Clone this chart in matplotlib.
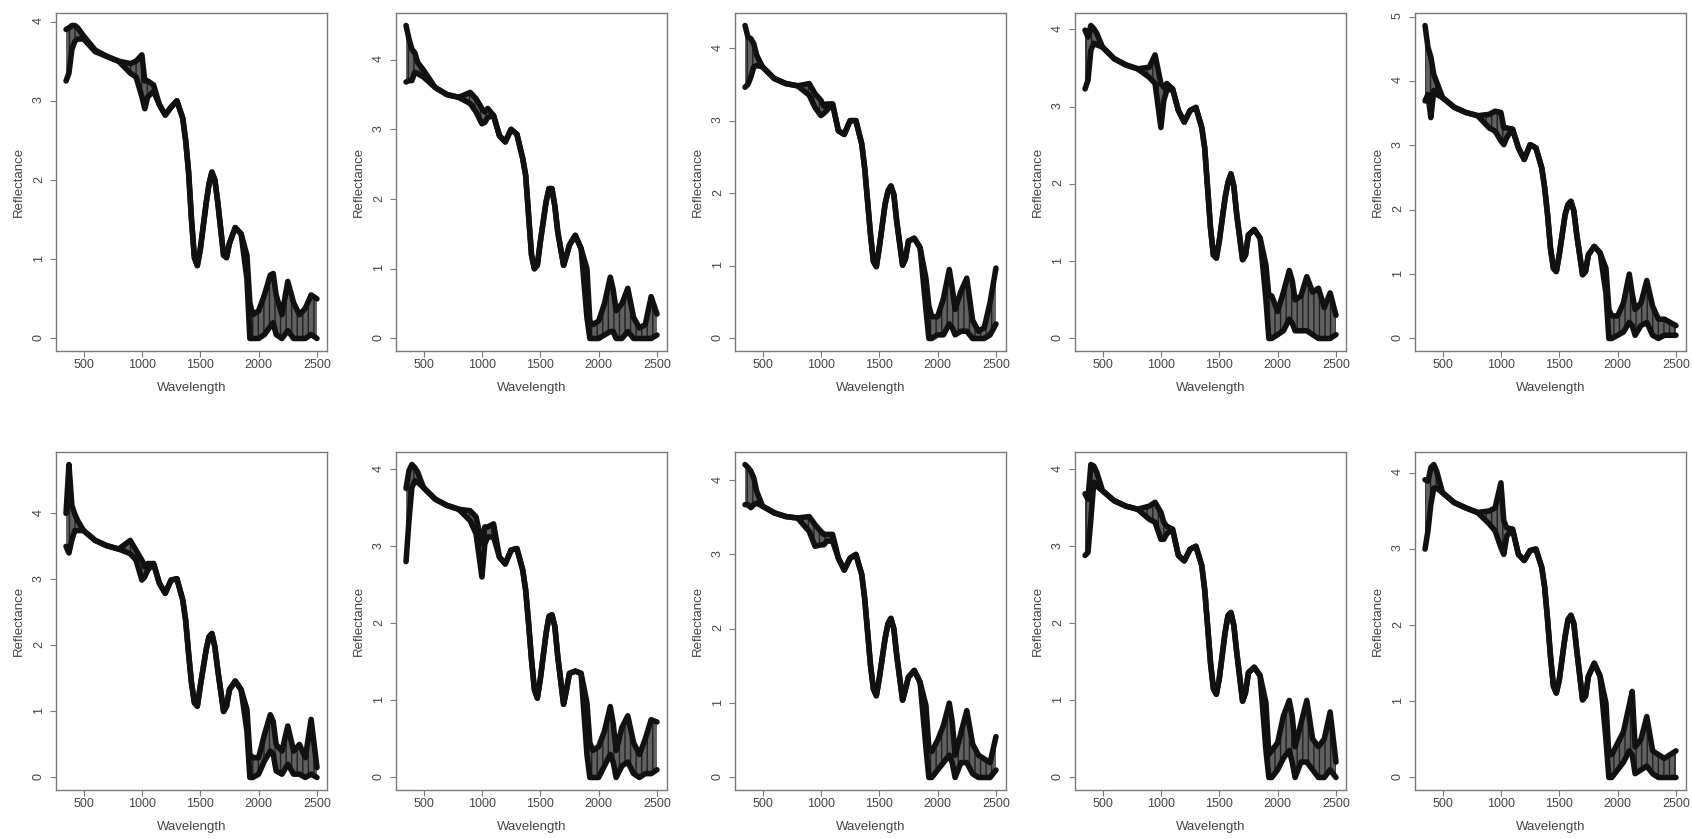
import matplotlib
matplotlib.use("Agg")
import matplotlib.pyplot as plt
from matplotlib.ticker import MultipleLocator

plt.rcParams['font.family'] = ['Liberation Sans', 'DejaVu Sans']

wavelength = [350, 375, 400, 425, 450, 500, 600, 700, 800, 900,
              950, 1000, 1025, 1050, 1100, 1150, 1200, 1250, 1300, 1350,
              1375, 1400, 1425, 1450, 1475, 1500, 1550, 1575, 1600, 1625,
              1650, 1700, 1725, 1750, 1800, 1850, 1900, 1925, 1950, 2000,
              2050, 2100, 2125, 2150, 2200, 2250, 2300, 2350, 2400, 2450,
              2500]

# upper / lower edge of the point cloud for every sample
p1_hi = [3.90, 3.92, 3.95, 3.95, 3.92, 3.82, 3.64, 3.56, 3.50, 3.47,
         3.50, 3.58, 3.25, 3.25, 3.20, 2.95, 2.82, 2.92, 3.00, 2.78,
         2.50, 2.10, 1.50, 1.02, 0.92, 1.12, 1.70, 1.95, 2.10, 2.00,
         1.72, 1.05, 1.02, 1.20, 1.40, 1.32, 1.05, 0.45, 0.30, 0.35,
         0.55, 0.80, 0.82, 0.55, 0.30, 0.72, 0.45, 0.30, 0.38, 0.55,
         0.50]
p1_lo = [3.25, 3.35, 3.65, 3.75, 3.78, 3.78, 3.62, 3.56, 3.50, 3.35,
         3.30, 3.05, 2.90, 3.05, 3.12, 2.95, 2.82, 2.92, 3.00, 2.78,
         2.50, 2.10, 1.50, 1.02, 0.92, 1.12, 1.70, 1.95, 2.10, 2.00,
         1.72, 1.05, 1.02, 1.20, 1.40, 1.32, 0.75, 0.00, 0.00, 0.00,
         0.05, 0.15, 0.20, 0.05, 0.00, 0.10, 0.00, 0.00, 0.00, 0.05,
         0.00]

p2_hi = [4.49, 4.30, 4.15, 4.10, 3.96, 3.85, 3.60, 3.50, 3.46, 3.53,
         3.44, 3.30, 3.25, 3.30, 3.20, 2.91, 2.82, 3.00, 2.93, 2.58,
         2.34, 1.77, 1.20, 1.00, 1.05, 1.38, 1.96, 2.15, 2.15, 1.90,
         1.53, 1.05, 1.19, 1.34, 1.48, 1.29, 1.00, 0.25, 0.20, 0.25,
         0.50, 0.88, 0.70, 0.40, 0.50, 0.72, 0.30, 0.15, 0.20, 0.60,
         0.35]
p2_lo = [3.68, 3.70, 3.70, 3.82, 3.80, 3.75, 3.60, 3.50, 3.46, 3.37,
         3.25, 3.08, 3.10, 3.17, 3.20, 2.91, 2.82, 3.00, 2.93, 2.58,
         2.34, 1.77, 1.20, 1.00, 1.05, 1.38, 1.96, 2.15, 2.15, 1.90,
         1.53, 1.05, 1.19, 1.34, 1.48, 1.29, 0.30, 0.00, 0.00, 0.00,
         0.05, 0.10, 0.10, 0.00, 0.00, 0.10, 0.00, 0.00, 0.00, 0.00,
         0.05]

p3_hi = [4.31, 4.15, 4.13, 4.06, 3.90, 3.74, 3.58, 3.51, 3.48, 3.51,
         3.37, 3.28, 3.20, 3.23, 3.23, 2.86, 2.81, 3.00, 3.00, 2.68,
         2.35, 1.89, 1.43, 1.06, 0.99, 1.25, 1.85, 2.03, 2.10, 1.98,
         1.61, 1.01, 1.10, 1.34, 1.38, 1.25, 0.83, 0.45, 0.30, 0.30,
         0.55, 0.95, 0.70, 0.40, 0.65, 0.83, 0.25, 0.10, 0.15, 0.50,
         0.97]
p3_lo = [3.46, 3.50, 3.60, 3.74, 3.76, 3.74, 3.58, 3.51, 3.48, 3.35,
         3.18, 3.07, 3.10, 3.14, 3.23, 2.86, 2.81, 3.00, 3.00, 2.68,
         2.35, 1.89, 1.43, 1.06, 0.99, 1.25, 1.85, 2.03, 2.10, 1.98,
         1.61, 1.01, 1.10, 1.34, 1.38, 1.25, 0.40, 0.00, 0.00, 0.05,
         0.05, 0.20, 0.15, 0.05, 0.10, 0.10, 0.00, 0.00, 0.00, 0.05,
         0.20]

p4_hi = [3.99, 3.90, 4.05, 4.01, 3.95, 3.77, 3.62, 3.54, 3.49, 3.51,
         3.67, 3.30, 3.25, 3.30, 3.23, 2.95, 2.80, 2.95, 2.99, 2.73,
         2.47, 1.95, 1.43, 1.08, 1.04, 1.26, 1.82, 2.02, 2.13, 1.97,
         1.60, 1.02, 1.08, 1.34, 1.41, 1.30, 0.95, 0.55, 0.55, 0.35,
         0.60, 0.88, 0.75, 0.50, 0.55, 0.80, 0.60, 0.65, 0.40, 0.59,
         0.30]
p4_lo = [3.23, 3.34, 3.73, 3.82, 3.80, 3.77, 3.62, 3.54, 3.49, 3.38,
         3.30, 2.73, 3.08, 3.21, 3.23, 2.95, 2.80, 2.95, 2.99, 2.73,
         2.47, 1.95, 1.43, 1.08, 1.04, 1.26, 1.82, 2.02, 2.13, 1.97,
         1.60, 1.02, 1.08, 1.34, 1.41, 1.30, 0.50, 0.00, 0.00, 0.05,
         0.10, 0.25, 0.20, 0.10, 0.10, 0.10, 0.05, 0.00, 0.00, 0.00,
         0.05]

p5_hi = [4.86, 4.52, 4.37, 4.10, 3.98, 3.74, 3.59, 3.51, 3.46, 3.48,
         3.53, 3.51, 3.27, 3.27, 3.25, 2.96, 2.78, 3.01, 2.96, 2.65,
         2.34, 1.92, 1.40, 1.09, 1.04, 1.30, 1.92, 2.08, 2.13, 1.98,
         1.61, 0.99, 1.04, 1.30, 1.43, 1.33, 1.09, 0.45, 0.35, 0.35,
         0.55, 1.00, 0.70, 0.45, 0.55, 0.90, 0.50, 0.30, 0.30, 0.25,
         0.20]
p5_lo = [3.69, 3.79, 3.43, 3.85, 3.79, 3.74, 3.59, 3.51, 3.46, 3.27,
         3.22, 3.07, 3.01, 3.12, 3.25, 2.96, 2.78, 3.01, 2.96, 2.65,
         2.34, 1.92, 1.40, 1.09, 1.04, 1.30, 1.92, 2.08, 2.13, 1.98,
         1.61, 0.99, 1.04, 1.30, 1.43, 1.33, 0.70, 0.00, 0.00, 0.05,
         0.10, 0.25, 0.20, 0.05, 0.20, 0.25, 0.05, 0.00, 0.05, 0.05,
         0.05]

p6_hi = [4.00, 4.74, 4.12, 3.99, 3.89, 3.74, 3.59, 3.51, 3.46, 3.59,
         3.44, 3.29, 3.19, 3.24, 3.24, 2.94, 2.79, 2.99, 3.01, 2.69,
         2.38, 1.88, 1.43, 1.13, 1.08, 1.38, 1.93, 2.13, 2.18, 1.98,
         1.63, 1.00, 1.08, 1.33, 1.46, 1.33, 1.03, 0.35, 0.30, 0.30,
         0.65, 0.95, 0.85, 0.50, 0.40, 0.78, 0.40, 0.50, 0.30, 0.88,
         0.15]
p6_lo = [3.50, 3.40, 3.60, 3.74, 3.74, 3.74, 3.59, 3.51, 3.46, 3.39,
         3.29, 2.99, 3.04, 3.14, 3.24, 2.94, 2.79, 2.99, 3.01, 2.69,
         2.38, 1.88, 1.43, 1.13, 1.08, 1.38, 1.93, 2.13, 2.18, 1.98,
         1.63, 1.00, 1.08, 1.33, 1.46, 1.33, 0.70, 0.00, 0.00, 0.05,
         0.25, 0.40, 0.35, 0.10, 0.05, 0.20, 0.05, 0.05, 0.00, 0.05,
         0.00]

p7_hi = [3.75, 3.98, 4.06, 4.02, 3.96, 3.76, 3.61, 3.53, 3.48, 3.46,
         3.38, 3.03, 3.25, 3.25, 3.29, 2.86, 2.77, 2.95, 2.97, 2.69,
         2.43, 2.00, 1.53, 1.14, 1.03, 1.27, 1.87, 2.09, 2.11, 1.96,
         1.57, 0.95, 1.14, 1.35, 1.38, 1.35, 0.97, 0.45, 0.35, 0.40,
         0.60, 0.92, 0.70, 0.35, 0.65, 0.80, 0.45, 0.30, 0.50, 0.75,
         0.72]
p7_lo = [2.80, 3.33, 3.76, 3.85, 3.83, 3.76, 3.61, 3.53, 3.48, 3.33,
         3.16, 2.60, 3.03, 3.12, 3.12, 2.86, 2.77, 2.95, 2.97, 2.69,
         2.43, 2.00, 1.53, 1.14, 1.03, 1.27, 1.87, 2.09, 2.11, 1.96,
         1.57, 0.95, 1.14, 1.35, 1.38, 1.35, 0.30, 0.00, 0.00, 0.00,
         0.15, 0.30, 0.20, 0.00, 0.15, 0.20, 0.05, 0.00, 0.05, 0.05,
         0.10]

p8_hi = [4.21, 4.17, 4.12, 4.03, 3.85, 3.65, 3.56, 3.51, 3.49, 3.51,
         3.40, 3.31, 3.27, 3.27, 3.27, 2.95, 2.79, 2.95, 3.00, 2.73,
         2.41, 1.96, 1.51, 1.19, 1.10, 1.33, 1.87, 2.07, 2.14, 2.00,
         1.64, 1.04, 1.19, 1.35, 1.44, 1.28, 0.97, 0.40, 0.35, 0.50,
         0.70, 1.00, 0.75, 0.30, 0.60, 0.90, 0.45, 0.30, 0.25, 0.20,
         0.55]
p8_lo = [3.67, 3.67, 3.63, 3.67, 3.69, 3.65, 3.56, 3.51, 3.49, 3.31,
         3.11, 3.13, 3.13, 3.18, 3.18, 2.95, 2.79, 2.95, 3.00, 2.73,
         2.41, 1.96, 1.51, 1.19, 1.10, 1.33, 1.87, 2.07, 2.14, 2.00,
         1.64, 1.04, 1.19, 1.35, 1.44, 1.28, 0.40, 0.00, 0.00, 0.10,
         0.20, 0.30, 0.20, 0.00, 0.20, 0.20, 0.05, 0.00, 0.00, 0.00,
         0.10]

p9_hi = [3.68, 3.61, 4.06, 4.04, 3.96, 3.72, 3.59, 3.52, 3.48, 3.52,
         3.57, 3.44, 3.31, 3.26, 3.22, 2.88, 2.81, 2.96, 3.00, 2.75,
         2.44, 1.97, 1.49, 1.15, 1.08, 1.28, 1.88, 2.10, 2.14, 1.97,
         1.62, 0.99, 1.10, 1.36, 1.43, 1.32, 0.97, 0.30, 0.35, 0.45,
         0.80, 1.00, 0.80, 0.40, 0.70, 1.00, 0.50, 0.40, 0.50, 0.85,
         0.20]
p9_lo = [2.88, 2.92, 3.35, 3.83, 3.78, 3.72, 3.59, 3.52, 3.48, 3.35,
         3.31, 3.09, 3.09, 3.16, 3.22, 2.88, 2.81, 2.96, 3.00, 2.75,
         2.44, 1.97, 1.49, 1.15, 1.08, 1.28, 1.88, 2.10, 2.14, 1.97,
         1.62, 0.99, 1.10, 1.36, 1.43, 1.32, 0.35, 0.00, 0.00, 0.10,
         0.25, 0.35, 0.20, 0.00, 0.20, 0.20, 0.10, 0.00, 0.00, 0.10,
         0.00]

p10_hi = [3.91, 3.89, 4.07, 4.11, 4.02, 3.74, 3.61, 3.54, 3.48, 3.50,
          3.54, 3.87, 3.37, 3.28, 3.26, 2.93, 2.85, 2.98, 3.00, 2.76,
          2.50, 2.07, 1.59, 1.20, 1.11, 1.28, 1.85, 2.07, 2.13, 2.02,
          1.67, 1.02, 1.07, 1.33, 1.50, 1.33, 0.98, 0.30, 0.30, 0.45,
          0.60, 0.95, 1.13, 0.40, 0.50, 0.80, 0.35, 0.30, 0.25, 0.30,
          0.35]
p10_lo = [3.00, 3.24, 3.59, 3.80, 3.80, 3.74, 3.61, 3.54, 3.48, 3.33,
          3.24, 3.02, 2.93, 3.17, 3.26, 2.93, 2.85, 2.98, 3.00, 2.76,
          2.50, 2.07, 1.59, 1.20, 1.11, 1.28, 1.85, 2.07, 2.13, 2.02,
          1.67, 1.02, 1.07, 1.33, 1.50, 1.33, 0.50, 0.00, 0.00, 0.10,
          0.20, 0.35, 0.30, 0.05, 0.10, 0.15, 0.05, 0.00, 0.00, 0.00,
          0.00]

samples = [(p1_lo, p1_hi), (p2_lo, p2_hi), (p3_lo, p3_hi), (p4_lo, p4_hi),
           (p5_lo, p5_hi), (p6_lo, p6_hi), (p7_lo, p7_hi), (p8_lo, p8_hi),
           (p9_lo, p9_hi), (p10_lo, p10_hi)]

W, H = 1692, 839
fig = plt.figure(figsize=(W / 100, H / 100), dpi=100)

# panel grid in pixels (R par(mfrow=c(2,5)) look)
col_left = [56, 396, 735, 1075, 1415]
row_top = [13, 452]
ax_w, ax_h = 271, 338
frame_col = '#7a7a7a'
text_col = '#454545'

for i, (lo, hi) in enumerate(samples):
    r, c = divmod(i, 5)
    ax = fig.add_axes([col_left[c] / W, 1 - (row_top[r] + ax_h) / H,
                       ax_w / W, ax_h / H])
    ax.fill_between(wavelength, lo, hi, facecolor='#3a3a3a', alpha=0.8,
                    edgecolor='#111111', hatch='|||', lw=0)
    for edge in (lo, hi):
        ax.plot(wavelength, edge, color='#111111', lw=4.0,
                solid_joinstyle='round', solid_capstyle='round')
    ax.margins(x=0.04, y=0.04)
    ax.xaxis.set_major_locator(MultipleLocator(500))
    ax.yaxis.set_major_locator(MultipleLocator(1))
    ax.yaxis.set_major_formatter(plt.FuncFormatter(lambda v, p: f"{v:.0f}"))
    for s in ax.spines.values():
        s.set_color(frame_col)
        s.set_linewidth(1.0)
    ax.tick_params(direction='out', length=4, width=0.8, color=frame_col,
                   labelcolor=text_col, labelsize=9, pad=2)
    ax.tick_params(axis='y', labelrotation=90, pad=4)
    ax.set_xlabel('Wavelength', fontsize=9.5, color=text_col, labelpad=8)
    ax.set_ylabel('Reflectance', fontsize=9.5, color=text_col, labelpad=6)

fig.savefig('out.png', dpi=100)
